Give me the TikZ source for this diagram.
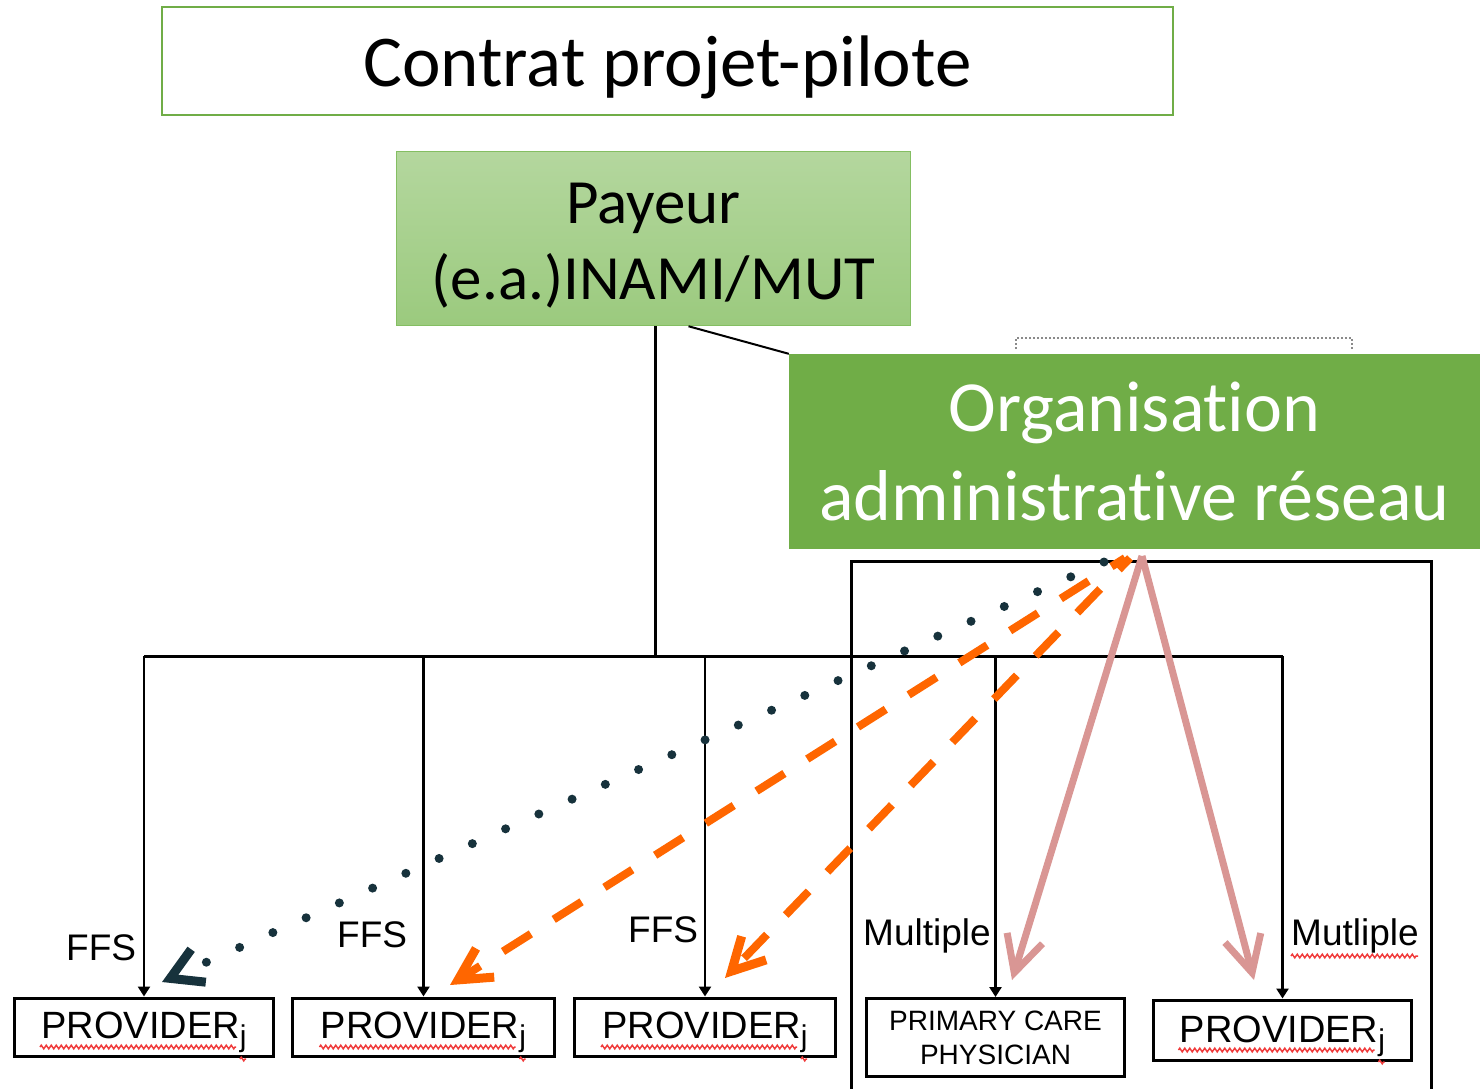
\documentclass[tikz,border=0pt]{standalone}
\usepackage{fontspec}
\newfontfamily\calib[Ligatures=NoCommon]{Carlito}
\newfontfamily\arial{Liberation Sans}
\usetikzlibrary{arrows.meta,decorations.pathmorphing,calc}
\definecolor{grn}{HTML}{70AD47}
\definecolor{grnlight}{HTML}{B4D79E}
\definecolor{grnmid}{HTML}{9BCA7E}
\definecolor{grnedge}{HTML}{84BE62}
\definecolor{dotc}{HTML}{17323C}
\definecolor{orng}{HTML}{FF6600}
\definecolor{pnk}{HTML}{D99694}
\definecolor{brk}{HTML}{8A8A8A}
\definecolor{squigc}{HTML}{F03C3C}
\newcommand\provtxt{PROVIDER\raisebox{-8pt}{\fontsize{30}{30}\selectfont j}}
\begin{document}
\begin{tikzpicture}[x=1pt,y=-1pt,
  topbox/.style={draw=grn,line width=2.5pt,minimum width=1011pt,minimum height=108pt,inner sep=0pt,
    text height=65pt,text depth=15pt,font=\calib\fontsize{73}{80}\selectfont},
  payeurbox/.style={draw=grnedge,line width=1.5pt,top color=grnlight,bottom color=grnmid,
    minimum width=514pt,minimum height=174pt,inner sep=0pt,align=center,
    font=\calib\fontsize{63}{76}\selectfont},
  orgbox/.style={fill=grn,text=white,minimum width=691pt,minimum height=195pt,inner sep=0pt,align=center,
    font=\calib\fontsize{72}{89}\selectfont},
  provbox/.style={draw=black,line width=3pt,minimum height=58pt,inner sep=0pt,
    text height=40pt,text depth=18pt,font=\arial\fontsize{38}{40}\selectfont},
  pcpbox/.style={draw=black,line width=3pt,minimum height=78pt,inner sep=0pt,align=center,
    font=\arial\fontsize{28}{34}\selectfont},
  grpbox/.style={draw=black,line width=3pt,minimum width=580pt,minimum height=539pt,inner sep=0pt},
  lbl/.style={anchor=base west,inner sep=0pt,font=\arial\fontsize{37}{40}\selectfont},
  trunk/.style={draw=black,line width=3pt},
  branch/.style={draw=black,line width=2.5pt,-{Triangle[length=10pt,width=12pt]}},
  link/.style={draw=black,line width=2pt},
  bracket/.style={draw=brk,line width=1.8pt,dash pattern=on 2pt off 2pt},
  squig/.style={draw=squigc,line width=1.5pt,decorate,decoration={zigzag,segment length=5pt,amplitude=1.8pt}},
  dotarrow/.style={draw=dotc,line width=9pt,line cap=round,dash pattern=on 0pt off 36.4pt,
    -{Straight Barb[length=31pt,width=36pt,line width=9pt]}},
  orarrow/.style={draw=orng,line width=8pt,dash pattern=on 33pt off 27pt,dash phase=17pt,
    -{Straight Barb[length=32pt,width=34pt,line width=9pt]}},
  pkarrow/.style={draw=pnk,line width=7pt,
    -{Straight Barb[length=36pt,width=37pt,line width=7pt]}}
]
\useasboundingbox (0,0) rectangle (1483,1088);

% top boxes
\node[topbox] (top) at (667.5,61) {Contrat projet-pilote};
\node[payeurbox] (payeur) at (653.5,238.5) {\rule{0pt}{55pt}Payeur\\(e.a.)INAMI/MUT};
\node[orgbox] (org) at (1134.5,451.5) {Organisation\\administrative réseau};
\draw[link] ($(payeur.south)+(35,0)$) -- (org.north west);
\draw[bracket] (1016,349) -- (1016,338) -- (1352,338) -- (1352,349);

% group frame
\node[grpbox] (grp) at (1141,830.5) {};

% bottom boxes
\node[provbox,minimum width=259pt] (p1) at (144,1027) {\provtxt};
\node[provbox,minimum width=262pt] (p2) at (423.5,1027) {\provtxt};
\node[provbox,minimum width=261pt] (p3) at (705,1027) {\provtxt};
\node[pcpbox,minimum width=258pt] (pcp) at (995.5,1037.5) {PRIMARY CARE\\PHYSICIAN};
\node[provbox,minimum width=258pt,minimum height=60pt,text height=42pt,text depth=18pt] (p5) at (1282.5,1030) {\provtxt};

% spell-check underlines
\foreach \b in {p1,p2,p3,p5}{
  \draw[squig] ($(\b.center)+(-104,20)$) -- ++(196,0);
  \draw[squig] ($(\b.center)+(96,32)$) -- ++(6,0);
}

% tree
\coordinate (hub) at (655,656);
\draw[trunk] (hub |- payeur.south) -- (hub);
\draw[trunk] (p1.north |- hub) -- (p5.north |- hub);
\foreach \b in {p1,p2,p3,pcp,p5}{
  \draw[branch] (\b.north |- hub) -- (\b.north);
}

% labels
\node[lbl] (f1) at (66,960) {FFS};
\node[lbl] (f2) at (337,947) {FFS};
\node[lbl] (f3) at (628,942) {FFS};
\node[lbl] (m1) at (863,945) {Multiple};
\node[lbl] (m2) at (1291,945) {Mutliple};
\draw[squig] ($(m2.base west)+(0,11)$) -- ++(127,0);

% arrows from the network organisation
\coordinate (ds) at (1104,562);
\coordinate (de) at (162,982);
\coordinate (o1s) at (1125,558);
\coordinate (o1e) at (450,985);
\coordinate (o2s) at (1130,558);
\coordinate (o2e) at (725,978);
\coordinate (ks) at (1142,556);
\coordinate (k1e) at (1012,980);
\coordinate (k2e) at (1254,980);
\draw[dotarrow] (ds) -- (de);
\draw[orarrow] (o1s) -- (o1e);
\draw[orarrow] (o2s) -- (o2e);
\draw[pkarrow] (ks) -- (k1e);
\draw[pkarrow] (ks) -- (k2e);
\end{tikzpicture}
\end{document}
